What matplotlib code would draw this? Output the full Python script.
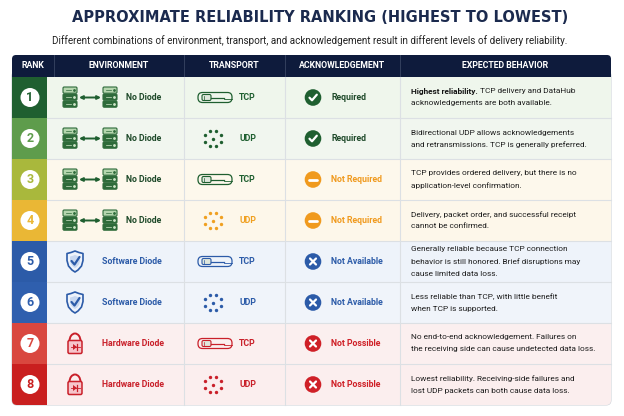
import matplotlib
matplotlib.use('Agg')
import matplotlib.pyplot as plt
from matplotlib.patches import FancyBboxPatch, Rectangle, Circle, Polygon, Arc
import numpy as np

plt.rcParams['font.family'] = ['Roboto', 'DejaVu Sans']

# Table content
title = "APPROXIMATE RELIABILITY RANKING (HIGHEST TO LOWEST)"
subtitle = ("Different combinations of environment, transport, and acknowledgement "
            "result in different levels of delivery reliability.")
headers = ["RANK", "ENVIRONMENT", "TRANSPORT", "ACKNOWLEDGEMENT", "EXPECTED BEHAVIOR"]
ranks = [1, 2, 3, 4, 5, 6, 7, 8]
environments = ["No Diode"] * 4 + ["Software Diode"] * 2 + ["Hardware Diode"] * 2
transports = ["TCP", "UDP", "TCP", "UDP", "TCP", "UDP", "TCP", "UDP"]
acks = ["Required", "Required", "Not Required", "Not Required",
        "Not Available", "Not Available", "Not Possible", "Not Possible"]
behavior_bold = ["Highest reliability.", "", "", "", "", "", "", ""]
behaviors = [
    [" TCP delivery and DataHub", "acknowledgements are both available."],
    ["Bidirectional UDP allows acknowledgements", "and retransmissions. TCP is generally preferred."],
    ["TCP provides ordered delivery, but there is no", "application-level confirmation."],
    ["Delivery, packet order, and successful receipt", "cannot be confirmed."],
    ["Generally reliable because TCP connection", "behavior is still honored. Brief disruptions may",
     "cause limited data loss."],
    ["Less reliable than TCP, with little benefit", "when TCP is supported."],
    ["No end-to-end acknowledgement. Failures on", "the receiving side can cause undetected data loss."],
    ["Lowest reliability. Receiving-side failures and", "lost UDP packets can both cause data loss."],
]

# colours
rank_colors = ["#1f5f30", "#5e9c4c", "#a9b83c", "#eab735", "#2c5ba8", "#2f5fae", "#d9473f", "#c91f1f"]
row_bg = ["#eff6ec", "#f1f6ef", "#fdf8ec", "#fdf7ea", "#eef3fa", "#f0f4fa", "#fbefef", "#fbeeee"]
transport_colors = ["#1f5f30", "#1f5f30", "#1f5f30", "#f0a020", "#2c5ba8", "#2c5ba8", "#c9202a", "#c9202a"]
env_style = {"No Diode": "#1f4a2a", "Software Diode": "#2c5ba8", "Hardware Diode": "#c9202a"}
ack_style = {"Required": ("#1f5f30", "#1f4a2a", "check"),
             "Not Required": ("#f09a1e", "#f09a1e", "minus"),
             "Not Available": ("#2c5ba8", "#2c5ba8", "x"),
             "Not Possible": ("#cf2027", "#cf2027", "x")}
NAVY = "#0e1b3c"
GRID = "#dce0e4"
LABEL_FS = 6.3
BODY_FS = 5.95

fig = plt.figure(figsize=(6.24, 4.16), dpi=100)
ax = fig.add_axes([0, 0, 1, 1])
ax.set_xlim(0, 624)
ax.set_ylim(416, 0)
ax.axis('off')
renderer = fig.canvas.get_renderer()


def fit_text(x, y, s, width, **kw):
    t = ax.text(x, y, s, ha='center', va='center', **kw)
    w = t.get_window_extent(renderer).width
    t.set_fontsize(t.get_fontsize() * width / w)
    return t


fit_text(320, 18, title, 492, fontsize=16, fontweight='bold', color="#1b2a4e",
         family=['Liberation Sans Narrow', 'DejaVu Sans'])
fit_text(310, 41, subtitle, 520, fontsize=6.2, color="#222222")

# table frame
left, right = 12, 611
top, bottom = 77, 405
frame = FancyBboxPatch((left, top - 6), right - left, bottom - top + 6,
                       boxstyle="round,pad=0,rounding_size=5",
                       fc="white", ec="#cfd4da", lw=0.8, zorder=0)
ax.add_patch(frame)
row_h = (bottom - top) / len(ranks)
row_y = [top + i * row_h for i in range(len(ranks))]
col_x = [left, 47, 184, 285, 400, right]
head_x = [left, 54, 184, 285, 400, right]

# header bar
ax.add_patch(FancyBboxPatch((left, 55), right - left, 21, boxstyle="round,pad=0,rounding_size=4",
                            fc=NAVY, ec="none", zorder=2))
ax.add_patch(Rectangle((left, 66), right - left, 10.5, fc=NAVY, ec="none", zorder=2))
for i, h in enumerate(headers):
    ax.text((head_x[i] + head_x[i + 1]) / 2, 66, h, ha='center', va='center',
            color='white', fontsize=6.3, fontweight='bold', zorder=3)
    if i > 0:
        ax.plot([head_x[i]] * 2, [55, 76], color="#33405e", lw=0.7, zorder=3)


def server(cx, cy, col):
    for k in range(3):
        y0 = cy - 10.5 + k * 7
        fc = "#b5d6ae" if k == 0 else col
        ax.add_patch(FancyBboxPatch((cx - 7, y0), 14, 6.2, boxstyle="round,pad=0,rounding_size=1.2",
                                    fc=fc, ec=col, lw=0.8, zorder=3))
        ax.plot([cx - 4.5, cx + 1], [y0 + 3.1] * 2, color="#cfe6c9" if k else col, lw=0.5, zorder=4)
        ax.plot([cx + 3.5], [y0 + 3.1], marker='o', ms=1, color="#cfe6c9" if k else col, zorder=4)


def shield(cx, cy, col):
    pts = np.array([(0, -10.5), (4, -9), (8, -8), (8, -1), (6.5, 4.5), (3, 8.5), (0, 10.5),
                    (-3, 8.5), (-6.5, 4.5), (-8, -1), (-8, -8), (-4, -9)])
    ax.add_patch(Polygon(pts + (cx, cy), closed=True, fc="#eef3fb", ec=col, lw=1.2,
                         joinstyle='round', zorder=3))
    ax.add_patch(Polygon(pts * 0.62 + (cx, cy), closed=True, fc="#c9d8f0", ec="none", zorder=3))
    ax.plot([cx - 3.5, cx - 0.5, cx + 4.5], [cy - 0.5, cy + 3, cy - 4.5], color=col, lw=1.6,
            solid_capstyle='round', zorder=4)


def padlock(cx, cy, col):
    ax.add_patch(Arc((cx, cy - 2.5), 11, 15, theta1=180, theta2=360, color=col, lw=1.4, zorder=3))
    ax.add_patch(FancyBboxPatch((cx - 7, cy - 3), 14, 13, boxstyle="round,pad=0,rounding_size=1.5",
                                fc="#f6c5cb", ec=col, lw=1.1, zorder=4))
    ax.add_patch(Polygon([(cx - 2, cy + 0.5), (cx - 2, cy + 6.5), (cx + 2, cy + 3.5)],
                         closed=True, fc=col, ec="none", zorder=5))
    ax.plot([cx + 2.2] * 2, [cy + 0.5, cy + 6.5], color=col, lw=0.9, zorder=5)
    ax.plot([cx - 4.5, cx + 4.5], [cy + 3.5] * 2, color=col, lw=0.6, zorder=5)


def tcp_icon(cx, cy, col):
    ax.add_patch(FancyBboxPatch((cx - 17, cy - 5), 34, 10, boxstyle="round,pad=0,rounding_size=4.5",
                                fc="none", ec=col, lw=0.9, zorder=3))
    ax.add_patch(FancyBboxPatch((cx - 13, cy - 3), 9, 6, boxstyle="round,pad=0,rounding_size=1.5",
                                fc="#dfe7dc", ec=col, lw=0.8, zorder=3))
    ax.plot([cx - 11, cx - 11], [cy - 2, cy + 2], color=col, lw=0.5, zorder=4)
    ax.plot([cx - 4, cx + 9], [cy, cy], color=col, lw=0.9, zorder=3)
    ax.plot([cx + 9, cx + 17], [cy + 1.5, cy + 1.5], color=col, lw=0.6, zorder=3)


def udp_icon(cx, cy, col):
    ang = np.linspace(0, 2 * np.pi, 8, endpoint=False) + np.pi / 8
    ax.scatter(cx + 8.5 * np.cos(ang), cy + 8.5 * np.sin(ang), s=6, color=col, lw=0, zorder=3)
    ax.scatter([cx], [cy], s=6, color=col, lw=0, zorder=3)


def ack_icon(cx, cy, col, kind):
    ax.add_patch(Circle((cx, cy), 8.3, fc=col, ec="none", zorder=3))
    kw = dict(color='white', lw=1.6, solid_capstyle='round', zorder=4)
    if kind == "check":
        ax.plot([cx - 3.5, cx - 1, cx + 3.8], [cy + 0.2, cy + 2.8, cy - 2.8], **kw)
    elif kind == "minus":
        ax.plot([cx - 4, cx + 4], [cy, cy], lw=2, color='white', solid_capstyle='round', zorder=4)
    else:
        ax.plot([cx - 3, cx + 3], [cy - 3, cy + 3], **kw)
        ax.plot([cx - 3, cx + 3], [cy + 3, cy - 3], **kw)


for i, r in enumerate(ranks):
    y0 = row_y[i]
    cy = y0 + row_h / 2
    ax.add_patch(Rectangle((col_x[1], y0), right - col_x[1], row_h, fc=row_bg[i], ec="none",
                           zorder=1, clip_path=frame))
    ax.add_patch(Rectangle((left, y0), col_x[1] - left, row_h, fc=rank_colors[i], ec="none",
                           zorder=2, clip_path=frame))
    ax.add_patch(Circle((30, cy), 9.5, fc='white', ec='none', zorder=3))
    ax.text(30, cy + 0.3, str(r), ha='center', va='center', fontsize=9, fontweight='bold',
            color=rank_colors[i], zorder=4)
    if i > 0:
        ax.plot([col_x[1], right], [y0, y0], color=GRID, lw=0.8, zorder=2)

    env = environments[i]
    ecol = env_style[env]
    if env == "No Diode":
        server(70, cy, "#2e6b3a")
        server(110, cy, "#2e6b3a")
        ax.annotate('', xy=(101, cy), xytext=(79, cy),
                    arrowprops=dict(arrowstyle='<|-|>', color="#1f5f30", lw=1.4,
                                    mutation_scale=5, shrinkA=0, shrinkB=0), zorder=3)
        ax.text(126, cy, env, ha='left', va='center', fontsize=LABEL_FS, fontweight='bold', color=ecol)
    elif env == "Software Diode":
        shield(75, cy, ecol)
        ax.text(102, cy, env, ha='left', va='center', fontsize=LABEL_FS, fontweight='bold', color=ecol)
    else:
        padlock(75, cy, ecol)
        ax.text(102, cy, env, ha='left', va='center', fontsize=LABEL_FS, fontweight='bold', color=ecol)

    tcol = transport_colors[i]
    if transports[i] == "TCP":
        tcp_icon(215, cy, tcol)
    else:
        udp_icon(213, cy, tcol)
    ax.text(239, cy, transports[i], ha='left', va='center', fontsize=LABEL_FS, fontweight='bold',
            color=tcol)

    icol, acol, kind = ack_style[acks[i]]
    ack_icon(313, cy, icol, kind)
    ax.text(331, cy, acks[i], ha='left', va='center', fontsize=LABEL_FS, fontweight='bold', color=acol)

    lines = behaviors[i]
    n = len(lines)
    for k, line in enumerate(lines):
        ly = cy + (k - (n - 1) / 2) * 12
        x = 411
        if k == 0 and behavior_bold[i]:
            tb = ax.text(x, ly, behavior_bold[i], ha='left', va='center', fontsize=BODY_FS,
                         fontweight='bold', color="#141414", zorder=4)
            bb = tb.get_window_extent(renderer)
            x = ax.transData.inverted().transform((bb.x1, bb.y0))[0]
        ax.text(x, ly, line, ha='left', va='center', fontsize=BODY_FS, color="#1e1e1e", zorder=4)

for x in col_x[2:5]:
    ax.plot([x, x], [top, bottom], color=GRID, lw=0.8, zorder=2)

fig.savefig("out.png", dpi=100)
